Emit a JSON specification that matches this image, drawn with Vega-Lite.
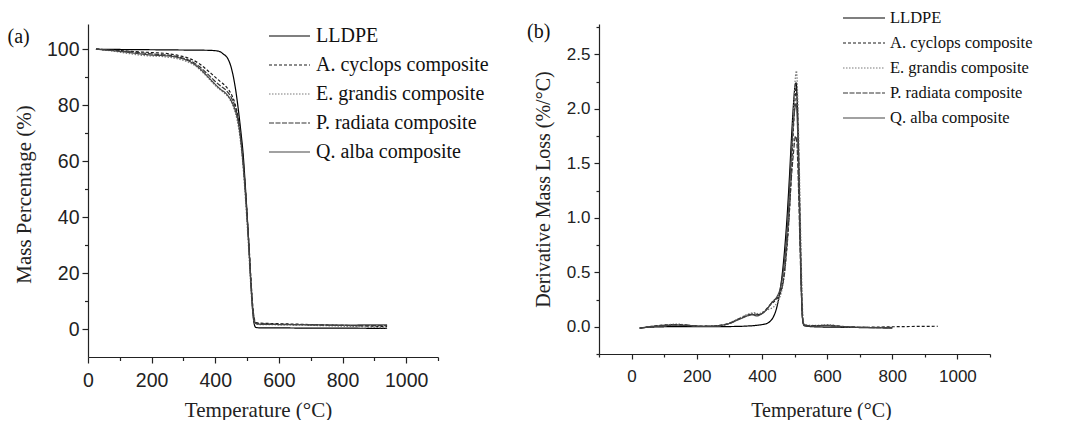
{
  "$schema": "https://vega.github.io/schema/vega-lite/v6.json",
  "background": "white",
  "padding": {"left": 7, "top": 10, "right": 5, "bottom": 0},
  "autosize": {"type": "pad"},
  "bounds": "flush",
  "spacing": 161,
  "config": {
    "view": {"stroke": null},
    "axis": {"grid": false, "domainColor": "#222", "tickColor": "#222", "labelColor": "#222", "titleColor": "#222", "labelFont": "Liberation Sans", "titleFont": "Liberation Serif", "titleFontWeight": "normal", "domainWidth": 1.2, "tickWidth": 1.2, "labelFlush": false, "labelOverlap": false}
  },
  "resolve": {"scale": {"color": "independent", "strokeDash": "independent"}, "legend": {"color": "independent", "strokeDash": "independent"}},
  "datasets": {
    "tga": [
      {"s":"LLDPE","t":25,"v":100},{"s":"LLDPE","t":100,"v":99.9},{"s":"LLDPE","t":200,"v":99.8},{"s":"LLDPE","t":300,"v":99.7},{"s":"LLDPE","t":380,"v":99.6},{"s":"LLDPE","t":410,"v":99.3},{"s":"LLDPE","t":425,"v":98.3},{"s":"LLDPE","t":440,"v":96.5},{"s":"LLDPE","t":450,"v":93.5},{"s":"LLDPE","t":458,"v":89.5},{"s":"LLDPE","t":466,"v":84},{"s":"LLDPE","t":474,"v":77},{"s":"LLDPE","t":481,"v":70},{"s":"LLDPE","t":488,"v":62},{"s":"LLDPE","t":494,"v":52},{"s":"LLDPE","t":500,"v":41},{"s":"LLDPE","t":506,"v":29},{"s":"LLDPE","t":512,"v":16},{"s":"LLDPE","t":518,"v":6},{"s":"LLDPE","t":522,"v":2},{"s":"LLDPE","t":527,"v":0.6},{"s":"LLDPE","t":540,"v":0.4},{"s":"LLDPE","t":600,"v":0.4},{"s":"LLDPE","t":700,"v":0.3},{"s":"LLDPE","t":800,"v":0.3},{"s":"LLDPE","t":940,"v":0.2},
      {"s":"A. cyclops composite","t":25,"v":100},{"s":"A. cyclops composite","t":100,"v":99.5},{"s":"A. cyclops composite","t":150,"v":99.1},{"s":"A. cyclops composite","t":200,"v":98.8},{"s":"A. cyclops composite","t":250,"v":98.4},{"s":"A. cyclops composite","t":290,"v":97.6},{"s":"A. cyclops composite","t":320,"v":96.6},{"s":"A. cyclops composite","t":350,"v":94.8},{"s":"A. cyclops composite","t":375,"v":92.5},{"s":"A. cyclops composite","t":395,"v":90.5},{"s":"A. cyclops composite","t":415,"v":88.5},{"s":"A. cyclops composite","t":435,"v":86.5},{"s":"A. cyclops composite","t":450,"v":84},{"s":"A. cyclops composite","t":462,"v":80.5},{"s":"A. cyclops composite","t":472,"v":75.5},{"s":"A. cyclops composite","t":480,"v":69},{"s":"A. cyclops composite","t":487,"v":61},{"s":"A. cyclops composite","t":494,"v":51},{"s":"A. cyclops composite","t":500,"v":41},{"s":"A. cyclops composite","t":506,"v":30},{"s":"A. cyclops composite","t":512,"v":18},{"s":"A. cyclops composite","t":518,"v":8},{"s":"A. cyclops composite","t":523,"v":3.5},{"s":"A. cyclops composite","t":528,"v":2.3},{"s":"A. cyclops composite","t":540,"v":2.1},{"s":"A. cyclops composite","t":600,"v":1.9},{"s":"A. cyclops composite","t":700,"v":1.6},{"s":"A. cyclops composite","t":800,"v":1.3},{"s":"A. cyclops composite","t":900,"v":1.0},{"s":"A. cyclops composite","t":940,"v":0.9},
      {"s":"E. grandis composite","t":25,"v":100},{"s":"E. grandis composite","t":80,"v":99.3},{"s":"E. grandis composite","t":130,"v":98.4},{"s":"E. grandis composite","t":180,"v":97.7},{"s":"E. grandis composite","t":230,"v":97.4},{"s":"E. grandis composite","t":280,"v":96.6},{"s":"E. grandis composite","t":310,"v":95.6},{"s":"E. grandis composite","t":340,"v":93.8},{"s":"E. grandis composite","t":365,"v":91.2},{"s":"E. grandis composite","t":385,"v":88.8},{"s":"E. grandis composite","t":405,"v":86.4},{"s":"E. grandis composite","t":425,"v":84.6},{"s":"E. grandis composite","t":445,"v":82.2},{"s":"E. grandis composite","t":458,"v":79},{"s":"E. grandis composite","t":468,"v":75},{"s":"E. grandis composite","t":477,"v":69},{"s":"E. grandis composite","t":485,"v":61},{"s":"E. grandis composite","t":492,"v":51},{"s":"E. grandis composite","t":498,"v":41},{"s":"E. grandis composite","t":504,"v":30},{"s":"E. grandis composite","t":510,"v":18},{"s":"E. grandis composite","t":516,"v":8},{"s":"E. grandis composite","t":521,"v":3},{"s":"E. grandis composite","t":526,"v":1.8},{"s":"E. grandis composite","t":540,"v":1.6},{"s":"E. grandis composite","t":600,"v":1.5},{"s":"E. grandis composite","t":700,"v":1.3},{"s":"E. grandis composite","t":800,"v":1.0},{"s":"E. grandis composite","t":900,"v":0.6},{"s":"E. grandis composite","t":940,"v":0.4},
      {"s":"P. radiata composite","t":25,"v":100},{"s":"P. radiata composite","t":100,"v":99.4},{"s":"P. radiata composite","t":150,"v":98.9},{"s":"P. radiata composite","t":200,"v":98.3},{"s":"P. radiata composite","t":250,"v":97.9},{"s":"P. radiata composite","t":290,"v":97.1},{"s":"P. radiata composite","t":320,"v":95.9},{"s":"P. radiata composite","t":350,"v":93.8},{"s":"P. radiata composite","t":375,"v":91.2},{"s":"P. radiata composite","t":395,"v":89},{"s":"P. radiata composite","t":415,"v":87},{"s":"P. radiata composite","t":435,"v":85.2},{"s":"P. radiata composite","t":450,"v":82.8},{"s":"P. radiata composite","t":462,"v":79.6},{"s":"P. radiata composite","t":472,"v":75},{"s":"P. radiata composite","t":480,"v":68.5},{"s":"P. radiata composite","t":487,"v":60.5},{"s":"P. radiata composite","t":494,"v":50.5},{"s":"P. radiata composite","t":500,"v":40.5},{"s":"P. radiata composite","t":506,"v":29.5},{"s":"P. radiata composite","t":512,"v":17.5},{"s":"P. radiata composite","t":518,"v":7.5},{"s":"P. radiata composite","t":523,"v":3.2},{"s":"P. radiata composite","t":528,"v":2.1},{"s":"P. radiata composite","t":540,"v":1.9},{"s":"P. radiata composite","t":600,"v":1.7},{"s":"P. radiata composite","t":700,"v":1.5},{"s":"P. radiata composite","t":800,"v":1.3},{"s":"P. radiata composite","t":900,"v":1.2},{"s":"P. radiata composite","t":940,"v":1.2},
      {"s":"Q. alba composite","t":25,"v":100},{"s":"Q. alba composite","t":100,"v":99.2},{"s":"Q. alba composite","t":150,"v":98.5},{"s":"Q. alba composite","t":200,"v":97.9},{"s":"Q. alba composite","t":250,"v":97.6},{"s":"Q. alba composite","t":290,"v":96.8},{"s":"Q. alba composite","t":320,"v":95.6},{"s":"Q. alba composite","t":350,"v":93.2},{"s":"Q. alba composite","t":375,"v":90.4},{"s":"Q. alba composite","t":395,"v":88},{"s":"Q. alba composite","t":415,"v":85.8},{"s":"Q. alba composite","t":435,"v":84},{"s":"Q. alba composite","t":450,"v":81.6},{"s":"Q. alba composite","t":462,"v":78.4},{"s":"Q. alba composite","t":472,"v":74},{"s":"Q. alba composite","t":480,"v":67.5},{"s":"Q. alba composite","t":487,"v":59.5},{"s":"Q. alba composite","t":494,"v":49.5},{"s":"Q. alba composite","t":500,"v":39.5},{"s":"Q. alba composite","t":506,"v":28.5},{"s":"Q. alba composite","t":512,"v":16.5},{"s":"Q. alba composite","t":518,"v":6.5},{"s":"Q. alba composite","t":523,"v":2.6},{"s":"Q. alba composite","t":528,"v":1.9},{"s":"Q. alba composite","t":540,"v":1.7},{"s":"Q. alba composite","t":600,"v":1.6},{"s":"Q. alba composite","t":700,"v":1.5},{"s":"Q. alba composite","t":800,"v":1.4},{"s":"Q. alba composite","t":900,"v":1.5},{"s":"Q. alba composite","t":940,"v":1.5}
    ],
    "dtg": [
      {"s":"LLDPE","t":25,"v":-0.012},{"s":"LLDPE","t":50,"v":-0.005},{"s":"LLDPE","t":100,"v":0.0},{"s":"LLDPE","t":150,"v":0.002},{"s":"LLDPE","t":200,"v":0.0},{"s":"LLDPE","t":250,"v":0.0},{"s":"LLDPE","t":300,"v":0.002},{"s":"LLDPE","t":350,"v":0.006},{"s":"LLDPE","t":380,"v":0.012},{"s":"LLDPE","t":400,"v":0.02},{"s":"LLDPE","t":415,"v":0.03},{"s":"LLDPE","t":425,"v":0.05},{"s":"LLDPE","t":435,"v":0.09},{"s":"LLDPE","t":445,"v":0.17},{"s":"LLDPE","t":455,"v":0.32},{"s":"LLDPE","t":463,"v":0.5},{"s":"LLDPE","t":470,"v":0.72},{"s":"LLDPE","t":477,"v":1.0},{"s":"LLDPE","t":484,"v":1.35},{"s":"LLDPE","t":491,"v":1.75},{"s":"LLDPE","t":497,"v":2.05},{"s":"LLDPE","t":502,"v":2.22},{"s":"LLDPE","t":505,"v":2.24},{"s":"LLDPE","t":509,"v":2.0},{"s":"LLDPE","t":513,"v":1.5},{"s":"LLDPE","t":517,"v":0.9},{"s":"LLDPE","t":521,"v":0.35},{"s":"LLDPE","t":525,"v":0.06},{"s":"LLDPE","t":530,"v":0.01},{"s":"LLDPE","t":560,"v":0.0},{"s":"LLDPE","t":650,"v":-0.005},{"s":"LLDPE","t":800,"v":-0.01},
      {"s":"A. cyclops composite","t":25,"v":-0.012},{"s":"A. cyclops composite","t":50,"v":0.0},{"s":"A. cyclops composite","t":80,"v":0.012},{"s":"A. cyclops composite","t":110,"v":0.018},{"s":"A. cyclops composite","t":140,"v":0.02},{"s":"A. cyclops composite","t":170,"v":0.015},{"s":"A. cyclops composite","t":200,"v":0.008},{"s":"A. cyclops composite","t":240,"v":0.006},{"s":"A. cyclops composite","t":270,"v":0.012},{"s":"A. cyclops composite","t":290,"v":0.025},{"s":"A. cyclops composite","t":310,"v":0.045},{"s":"A. cyclops composite","t":330,"v":0.075},{"s":"A. cyclops composite","t":350,"v":0.1},{"s":"A. cyclops composite","t":365,"v":0.115},{"s":"A. cyclops composite","t":380,"v":0.11},{"s":"A. cyclops composite","t":395,"v":0.115},{"s":"A. cyclops composite","t":410,"v":0.15},{"s":"A. cyclops composite","t":425,"v":0.2},{"s":"A. cyclops composite","t":440,"v":0.24},{"s":"A. cyclops composite","t":455,"v":0.3},{"s":"A. cyclops composite","t":465,"v":0.42},{"s":"A. cyclops composite","t":473,"v":0.6},{"s":"A. cyclops composite","t":480,"v":0.85},{"s":"A. cyclops composite","t":487,"v":1.2},{"s":"A. cyclops composite","t":494,"v":1.65},{"s":"A. cyclops composite","t":500,"v":2.0},{"s":"A. cyclops composite","t":505,"v":2.2},{"s":"A. cyclops composite","t":509,"v":2.05},{"s":"A. cyclops composite","t":513,"v":1.6},{"s":"A. cyclops composite","t":517,"v":1.0},{"s":"A. cyclops composite","t":521,"v":0.45},{"s":"A. cyclops composite","t":525,"v":0.1},{"s":"A. cyclops composite","t":529,"v":0.02},{"s":"A. cyclops composite","t":540,"v":0.01},{"s":"A. cyclops composite","t":580,"v":0.012},{"s":"A. cyclops composite","t":610,"v":0.014},{"s":"A. cyclops composite","t":630,"v":0.008},{"s":"A. cyclops composite","t":660,"v":0.0},{"s":"A. cyclops composite","t":700,"v":-0.005},{"s":"A. cyclops composite","t":800,"v":0.0},{"s":"A. cyclops composite","t":870,"v":0.003},{"s":"A. cyclops composite","t":940,"v":0.005},
      {"s":"E. grandis composite","t":25,"v":-0.012},{"s":"E. grandis composite","t":60,"v":0.0},{"s":"E. grandis composite","t":100,"v":0.015},{"s":"E. grandis composite","t":140,"v":0.025},{"s":"E. grandis composite","t":180,"v":0.012},{"s":"E. grandis composite","t":220,"v":0.006},{"s":"E. grandis composite","t":260,"v":0.008},{"s":"E. grandis composite","t":285,"v":0.02},{"s":"E. grandis composite","t":305,"v":0.04},{"s":"E. grandis composite","t":325,"v":0.07},{"s":"E. grandis composite","t":345,"v":0.1},{"s":"E. grandis composite","t":360,"v":0.12},{"s":"E. grandis composite","t":375,"v":0.13},{"s":"E. grandis composite","t":390,"v":0.12},{"s":"E. grandis composite","t":405,"v":0.14},{"s":"E. grandis composite","t":420,"v":0.16},{"s":"E. grandis composite","t":435,"v":0.18},{"s":"E. grandis composite","t":450,"v":0.24},{"s":"E. grandis composite","t":460,"v":0.32},{"s":"E. grandis composite","t":470,"v":0.5},{"s":"E. grandis composite","t":478,"v":0.78},{"s":"E. grandis composite","t":486,"v":1.2},{"s":"E. grandis composite","t":493,"v":1.7},{"s":"E. grandis composite","t":499,"v":2.1},{"s":"E. grandis composite","t":503,"v":2.3},{"s":"E. grandis composite","t":506,"v":2.35},{"s":"E. grandis composite","t":510,"v":2.1},{"s":"E. grandis composite","t":514,"v":1.6},{"s":"E. grandis composite","t":518,"v":1.0},{"s":"E. grandis composite","t":522,"v":0.45},{"s":"E. grandis composite","t":526,"v":0.1},{"s":"E. grandis composite","t":530,"v":0.02},{"s":"E. grandis composite","t":560,"v":0.012},{"s":"E. grandis composite","t":600,"v":0.02},{"s":"E. grandis composite","t":620,"v":0.015},{"s":"E. grandis composite","t":650,"v":0.0},{"s":"E. grandis composite","t":700,"v":-0.005},{"s":"E. grandis composite","t":800,"v":-0.005},
      {"s":"P. radiata composite","t":25,"v":-0.012},{"s":"P. radiata composite","t":60,"v":0.002},{"s":"P. radiata composite","t":100,"v":0.012},{"s":"P. radiata composite","t":140,"v":0.018},{"s":"P. radiata composite","t":180,"v":0.012},{"s":"P. radiata composite","t":220,"v":0.005},{"s":"P. radiata composite","t":260,"v":0.008},{"s":"P. radiata composite","t":285,"v":0.018},{"s":"P. radiata composite","t":305,"v":0.035},{"s":"P. radiata composite","t":325,"v":0.065},{"s":"P. radiata composite","t":345,"v":0.09},{"s":"P. radiata composite","t":360,"v":0.105},{"s":"P. radiata composite","t":375,"v":0.12},{"s":"P. radiata composite","t":390,"v":0.11},{"s":"P. radiata composite","t":405,"v":0.13},{"s":"P. radiata composite","t":420,"v":0.18},{"s":"P. radiata composite","t":435,"v":0.24},{"s":"P. radiata composite","t":448,"v":0.27},{"s":"P. radiata composite","t":458,"v":0.32},{"s":"P. radiata composite","t":467,"v":0.45},{"s":"P. radiata composite","t":475,"v":0.7},{"s":"P. radiata composite","t":483,"v":1.0},{"s":"P. radiata composite","t":490,"v":1.35},{"s":"P. radiata composite","t":497,"v":1.6},{"s":"P. radiata composite","t":503,"v":1.75},{"s":"P. radiata composite","t":507,"v":1.7},{"s":"P. radiata composite","t":511,"v":1.4},{"s":"P. radiata composite","t":515,"v":0.95},{"s":"P. radiata composite","t":519,"v":0.5},{"s":"P. radiata composite","t":523,"v":0.15},{"s":"P. radiata composite","t":527,"v":0.03},{"s":"P. radiata composite","t":540,"v":0.01},{"s":"P. radiata composite","t":600,"v":0.012},{"s":"P. radiata composite","t":650,"v":0.0},{"s":"P. radiata composite","t":700,"v":-0.005},{"s":"P. radiata composite","t":800,"v":-0.008},
      {"s":"Q. alba composite","t":25,"v":-0.012},{"s":"Q. alba composite","t":60,"v":0.0},{"s":"Q. alba composite","t":100,"v":0.01},{"s":"Q. alba composite","t":140,"v":0.015},{"s":"Q. alba composite","t":180,"v":0.01},{"s":"Q. alba composite","t":220,"v":0.004},{"s":"Q. alba composite","t":260,"v":0.005},{"s":"Q. alba composite","t":280,"v":0.015},{"s":"Q. alba composite","t":300,"v":0.03},{"s":"Q. alba composite","t":320,"v":0.055},{"s":"Q. alba composite","t":340,"v":0.08},{"s":"Q. alba composite","t":355,"v":0.1},{"s":"Q. alba composite","t":370,"v":0.11},{"s":"Q. alba composite","t":385,"v":0.1},{"s":"Q. alba composite","t":400,"v":0.12},{"s":"Q. alba composite","t":415,"v":0.16},{"s":"Q. alba composite","t":430,"v":0.22},{"s":"Q. alba composite","t":445,"v":0.27},{"s":"Q. alba composite","t":456,"v":0.35},{"s":"Q. alba composite","t":465,"v":0.5},{"s":"Q. alba composite","t":473,"v":0.72},{"s":"Q. alba composite","t":481,"v":1.05},{"s":"Q. alba composite","t":488,"v":1.45},{"s":"Q. alba composite","t":495,"v":1.8},{"s":"Q. alba composite","t":501,"v":2.0},{"s":"Q. alba composite","t":505,"v":2.05},{"s":"Q. alba composite","t":509,"v":1.85},{"s":"Q. alba composite","t":513,"v":1.4},{"s":"Q. alba composite","t":517,"v":0.85},{"s":"Q. alba composite","t":521,"v":0.35},{"s":"Q. alba composite","t":525,"v":0.07},{"s":"Q. alba composite","t":530,"v":0.01},{"s":"Q. alba composite","t":560,"v":0.005},{"s":"Q. alba composite","t":600,"v":0.01},{"s":"Q. alba composite","t":650,"v":0.0},{"s":"Q. alba composite","t":700,"v":-0.005},{"s":"Q. alba composite","t":800,"v":-0.01}
    ]
  },
  "hconcat": [
    {
      "width": 350,
      "height": 333,
      "resolve": {"axis": {"x": "independent", "y": "independent"}},
      "layer": [
        {
          "data": {"name": "tga"},
          "mark": {"type": "line", "interpolate": "monotone", "strokeWidth": 1.2},
          "encoding": {
            "x": {"field": "t", "type": "quantitative", "scale": {"domain": [0, 1100], "nice": false, "zero": false},
                  "axis": {"orient": "bottom", "values": [0, 200, 400, 600, 800, 1000], "format": "d", "title": "Temperature (°C)", "labelFontSize": 19.5, "titleFontSize": 21, "tickSize": 6, "labelPadding": 8, "titleX": 170, "titleY": 53, "titleBaseline": "middle", "titleAlign": "center"}},
            "y": {"field": "v", "type": "quantitative", "scale": {"domain": [-10, 109], "nice": false, "zero": false},
                  "axis": {"orient": "left", "values": [0, 20, 40, 60, 80, 100], "format": "d", "title": "Mass Percentage (%)", "labelFontSize": 19.5, "titleFontSize": 21, "tickSize": 6, "labelPadding": 3, "titleX": -64, "titleY": 170, "titleBaseline": "middle", "titleAlign": "center"}},
            "color": {"field": "s", "type": "nominal",
                      "scale": {"domain": ["LLDPE", "A. cyclops composite", "E. grandis composite", "P. radiata composite", "Q. alba composite"], "range": ["#000000", "#1a1a1a", "#7a7a7a", "#333333", "#444444"]},
                      "legend": {"orient": "none", "legendX": 180, "legendY": 3.5, "title": null, "symbolType": "stroke", "symbolSize": 1681, "symbolStrokeWidth": 1.1, "labelFont": "Liberation Serif", "labelFontSize": 20, "labelColor": "#111", "labelLimit": 400, "clipHeight": 17, "rowPadding": 8, "labelOffset": 5, "padding": 0}},
            "strokeDash": {"field": "s", "type": "nominal",
                      "scale": {"domain": ["LLDPE", "A. cyclops composite", "E. grandis composite", "P. radiata composite", "Q. alba composite"], "range": [[1, 0], [3, 2], [1.5, 1.5], [5, 1.5], [1, 0]]},
                      "legend": {"orient": "none", "legendX": 180, "legendY": 3.5, "title": null, "symbolType": "stroke", "symbolSize": 1681, "symbolStrokeWidth": 1.1, "labelFont": "Liberation Serif", "labelFontSize": 20, "labelColor": "#111", "labelLimit": 400, "clipHeight": 17, "rowPadding": 8, "labelOffset": 5, "padding": 0}}
          }
        },
        {
          "data": {"name": "tga"},
          "mark": {"type": "line", "opacity": 0},
          "encoding": {
            "x": {"field": "t", "type": "quantitative", "scale": {"domain": [0, 1100], "nice": false, "zero": false},
                  "axis": {"orient": "bottom", "values": [100, 300, 500, 700, 900, 1100], "labels": false, "domain": false, "tickSize": 3.5, "title": null}},
            "y": {"field": "v", "type": "quantitative", "scale": {"domain": [-10, 109], "nice": false, "zero": false},
                  "axis": {"orient": "left", "values": [10, 30, 50, 70, 90], "labels": false, "domain": false, "tickSize": 3.5, "title": null}}
          }
        },
        {
          "data": {"values": [{"lab": "(a)"}]},
          "mark": {"type": "text", "font": "Liberation Serif", "fontSize": 20, "align": "left", "baseline": "middle", "color": "#111"},
          "encoding": {
            "x": {"datum": -253, "type": "quantitative", "scale": {"domain": [0, 1100], "nice": false, "zero": false}, "axis": null},
            "y": {"datum": 104.4, "type": "quantitative", "scale": {"domain": [-10, 109], "nice": false, "zero": false}, "axis": null},
            "text": {"field": "lab"}
          }
        }
      ]
    },
    {
      "width": 391,
      "height": 330,
      "resolve": {"axis": {"x": "independent", "y": "independent"}},
      "layer": [
        {
          "data": {"name": "dtg"},
          "mark": {"type": "line", "interpolate": "monotone", "strokeWidth": 1.2},
          "encoding": {
            "x": {"field": "t", "type": "quantitative", "scale": {"domain": [-100, 1100], "nice": false, "zero": false},
                  "axis": {"orient": "bottom", "values": [0, 200, 400, 600, 800, 1000], "format": "d", "title": "Temperature (°C)", "labelFontSize": 17, "titleFontSize": 20, "tickSize": 5, "labelPadding": 9, "titleX": 222, "titleY": 56, "titleBaseline": "middle", "titleAlign": "center"}},
            "y": {"field": "v", "type": "quantitative", "scale": {"domain": [-0.25, 2.78], "nice": false, "zero": false},
                  "axis": {"orient": "left", "values": [0, 0.5, 1, 1.5, 2, 2.5], "format": ".1f", "title": "Derivative Mass Loss (%/°C)", "labelFontSize": 17, "titleFontSize": 20, "tickSize": 5, "labelPadding": 4, "titleX": -56, "titleY": 165, "titleBaseline": "middle", "titleAlign": "center"}},
            "color": {"field": "s", "type": "nominal",
                      "scale": {"domain": ["LLDPE", "A. cyclops composite", "E. grandis composite", "P. radiata composite", "Q. alba composite"], "range": ["#000000", "#1a1a1a", "#7a7a7a", "#333333", "#444444"]},
                      "legend": {"orient": "none", "legendX": 243, "legendY": -13.5, "title": null, "symbolType": "stroke", "symbolSize": 1764, "symbolStrokeWidth": 1.1, "labelFont": "Liberation Serif", "labelFontSize": 16.5, "labelColor": "#111", "labelLimit": 400, "clipHeight": 15, "rowPadding": 8, "labelOffset": 4, "padding": 0}},
            "strokeDash": {"field": "s", "type": "nominal",
                      "scale": {"domain": ["LLDPE", "A. cyclops composite", "E. grandis composite", "P. radiata composite", "Q. alba composite"], "range": [[1, 0], [3, 2], [1.5, 1.5], [5, 1.5], [1, 0]]},
                      "legend": {"orient": "none", "legendX": 243, "legendY": -13.5, "title": null, "symbolType": "stroke", "symbolSize": 1764, "symbolStrokeWidth": 1.1, "labelFont": "Liberation Serif", "labelFontSize": 16.5, "labelColor": "#111", "labelLimit": 400, "clipHeight": 15, "rowPadding": 8, "labelOffset": 4, "padding": 0}}
          }
        },
        {
          "data": {"name": "dtg"},
          "mark": {"type": "line", "opacity": 0},
          "encoding": {
            "x": {"field": "t", "type": "quantitative", "scale": {"domain": [-100, 1100], "nice": false, "zero": false},
                  "axis": {"orient": "bottom", "values": [-100, 100, 300, 500, 700, 900, 1100], "labels": false, "domain": false, "tickSize": 3, "title": null}},
            "y": {"field": "v", "type": "quantitative", "scale": {"domain": [-0.25, 2.78], "nice": false, "zero": false},
                  "axis": {"orient": "left", "values": [-0.25, 0.25, 0.75, 1.25, 1.75, 2.25, 2.75], "labels": false, "domain": false, "tickSize": 3, "title": null}}
          }
        },
        {
          "data": {"values": [{"lab": "(b)"}]},
          "mark": {"type": "text", "font": "Liberation Serif", "fontSize": 20, "align": "left", "baseline": "middle", "color": "#111"},
          "encoding": {
            "x": {"datum": -321, "type": "quantitative", "scale": {"domain": [-100, 1100], "nice": false, "zero": false}, "axis": null},
            "y": {"datum": 2.711, "type": "quantitative", "scale": {"domain": [-0.25, 2.78], "nice": false, "zero": false}, "axis": null},
            "text": {"field": "lab"}
          }
        }
      ]
    }
  ]
}
